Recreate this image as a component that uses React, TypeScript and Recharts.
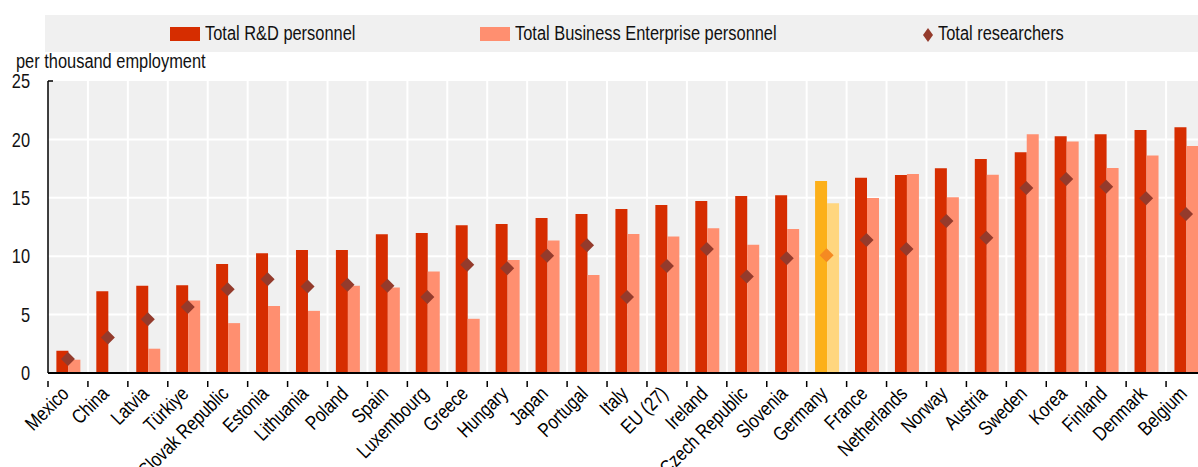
import React from 'react';
import { ComposedChart, Bar, Scatter, XAxis, YAxis, CartesianGrid, Cell } from 'recharts';

const countries = [
  'Mexico', 'China', 'Latvia', 'Türkiye', 'Slovak Republic', 'Estonia', 'Lithuania', 'Poland', 'Spain',
  'Luxembourg', 'Greece', 'Hungary', 'Japan', 'Portugal', 'Italy', 'EU (27)', 'Ireland', 'Czech Republic',
  'Slovenia', 'Germany', 'France', 'Netherlands', 'Norway', 'Austria', 'Sweden', 'Korea', 'Finland',
  'Denmark', 'Belgium',
];
const rdPersonnel = [
  1.9, 7.0, 7.46, 7.52, 9.34, 10.26, 10.54, 10.54, 11.88, 11.99, 12.65, 12.76, 13.27, 13.62, 14.04,
  14.38, 14.72, 15.15, 15.21, 16.44, 16.72, 16.95, 17.52, 18.32, 18.89, 20.28, 20.45, 20.8, 21.05,
];
const businessPersonnel = [
  1.14, null, 2.08, 6.2, 4.27, 5.73, 5.32, 7.46, 7.32, 8.69, 4.64, 9.68, 11.34, 8.4, 11.9,
  11.68, 12.39, 10.97, 12.33, 14.53, 14.98, 17.03, 15.04, 16.98, 20.45, 19.83, 17.55, 18.63, 19.43,
];
const researchers = [
  1.2, 3.04, 4.6, 5.64, 7.18, 8.03, 7.4, 7.55, 7.46, 6.5, 9.26, 8.97, 10.03, 10.94, 6.5,
  9.17, 10.62, 8.26, 9.83, 10.09, 11.39, 10.62, 13.02, 11.59, 15.84, 16.6, 15.95, 14.96, 13.62,
];
const yTicks = [0, 5, 10, 15, 20, 25];
const highlight = 'Germany';

const seriesNames = ['Total R&D personnel', 'Total Business Enterprise personnel', 'Total researchers'];
const colors = { rd: '#d62d00', be: '#ff8f70', res: '#943b2c' };
const hiColors = { rd: '#fcb01a', be: '#ffd67f', res: '#f58a22' };

const data = countries.map((name, i) => ({
  name,
  rd: rdPersonnel[i],
  be: businessPersonnel[i],
  res: researchers[i],
}));

// no narrow font installed, so squeeze Arial metrics horizontally
const FONT = '"Liberation Sans", Arial, sans-serif';
const FS = 20;
const SQ = 0.82;
const WIDTH = 1206;
const HEIGHT = 467;
const LEFT = 48;
const bandWidth = (WIDTH - LEFT) / countries.length;

const Narrow = ({ children, style }: any) => (
  <div style={{ position: 'absolute', whiteSpace: 'nowrap', transform: `scaleX(${SQ})`, transformOrigin: 'left top', ...style }}>
    {children}
  </div>
);

const Diamond = (props: any) => {
  const { cx, cy, payload } = props;
  if (cx == null || cy == null) return null;
  const fill = payload && payload.name === highlight ? hiColors.res : colors.res;
  const r = 7;
  return <path d={`M${cx},${cy - r}L${cx + r},${cy}L${cx},${cy + r}L${cx - r},${cy}Z`} fill={fill} />;
};

const XTick = (props: any) => {
  const { x, y, payload } = props;
  return (
    <g transform={`translate(${x},${y})`}>
      <line x1={-bandWidth / 2} x2={-bandWidth / 2} y1={0} y2={6} stroke="#000" strokeWidth={1.5} />
      <text
        x={0}
        y={0}
        transform={`translate(2,14) rotate(-45) scale(${SQ},1)`}
        textAnchor="end"
        fontSize={FS}
        fontFamily={FONT}
        fill="#000"
      >
        {payload.value}
      </text>
    </g>
  );
};

const YTick = (props: any) => {
  const { x, y, payload } = props;
  return (
    <g>
      {payload.value === 25 && <line x1={LEFT} x2={LEFT + 5} y1={y} y2={y} stroke="#000" strokeWidth={1.5} />}
      <text
        x={0}
        y={0}
        dy="0.36em"
        transform={`translate(${x},${y}) scale(${SQ},1)`}
        textAnchor="end"
        fontSize={FS}
        fontFamily={FONT}
        fill="#111"
      >
        {payload.value}
      </text>
    </g>
  );
};

const LegendBar = () => (
  <div
    style={{
      position: 'absolute',
      left: 45,
      top: 15,
      width: 1160,
      height: 37,
      background: '#f0f0f0',
      fontFamily: FONT,
      fontSize: FS,
      lineHeight: '22px',
      color: '#111',
    }}
  >
    <div style={{ position: 'absolute', left: 125, top: 12, width: 30, height: 14, background: colors.rd }} />
    <Narrow style={{ left: 160, top: 7 }}>{seriesNames[0]}</Narrow>
    <div style={{ position: 'absolute', left: 435, top: 12, width: 30, height: 14, background: colors.be }} />
    <Narrow style={{ left: 470, top: 7 }}>{seriesNames[1]}</Narrow>
    <svg style={{ position: 'absolute', left: 877, top: 12 }} width={12} height={16}>
      <path d="M6,1L11,8L6,15L1,8Z" fill={colors.res} />
    </svg>
    <Narrow style={{ left: 893, top: 7 }}>{seriesNames[2]}</Narrow>
  </div>
);

const App = () => {
  return (
    <div style={{ position: 'absolute', left: 0, top: 0, width: 1198, height: HEIGHT, overflow: 'hidden', background: '#fff' }}>
      <LegendBar />
      <Narrow style={{ left: 16, top: 50, fontFamily: FONT, fontSize: FS, lineHeight: '22px', color: '#111' }}>
        per thousand employment
      </Narrow>
      <div style={{ position: 'absolute', left: 0, top: 0 }}>
        <ComposedChart
          width={WIDTH}
          height={HEIGHT}
          data={data}
          margin={{ top: 81, right: 0, bottom: 0, left: 0 }}
          barCategoryGap="21%"
          barGap={0}
        >
          <CartesianGrid
            fill="#f0f0f0"
            stroke="#ffffff"
            strokeWidth={2}
            horizontalValues={[5, 10, 15, 20]}
            verticalCoordinatesGenerator={({ offset }: any) =>
              countries.map((_, i) => offset.left + (i + 1) * bandWidth)
            }
          />
          <XAxis
            dataKey="name"
            interval={0}
            tickLine={false}
            axisLine={{ stroke: '#000', strokeWidth: 2 }}
            tick={<XTick />}
            height={94}
          />
          <YAxis
            domain={[0, 25]}
            ticks={yTicks}
            width={LEFT}
            tickLine={false}
            tickSize={0}
            tickMargin={18}
            axisLine={{ stroke: '#000', strokeWidth: 1.5 }}
            tick={<YTick />}
          />
          <Bar dataKey="rd" name={seriesNames[0]} fill={colors.rd} isAnimationActive={false}>
            {data.map((d) => (
              <Cell key={d.name} fill={d.name === highlight ? hiColors.rd : colors.rd} />
            ))}
          </Bar>
          <Bar dataKey="be" name={seriesNames[1]} fill={colors.be} isAnimationActive={false}>
            {data.map((d) => (
              <Cell key={d.name} fill={d.name === highlight ? hiColors.be : colors.be} />
            ))}
          </Bar>
          <Scatter dataKey="res" name={seriesNames[2]} fill={colors.res} shape={<Diamond />} isAnimationActive={false} />
        </ComposedChart>
      </div>
    </div>
  );
};

export default App;
